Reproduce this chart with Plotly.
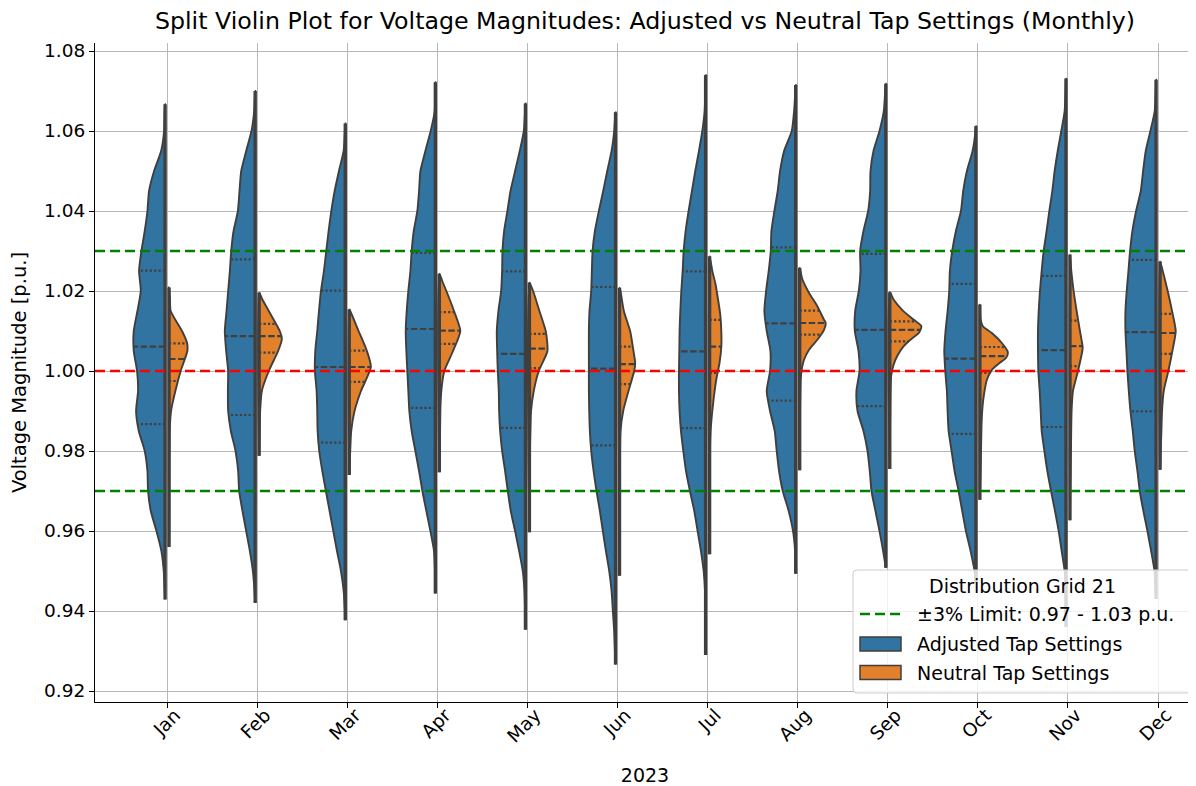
import numpy as np
import plotly.graph_objects as go

months = ["Jan", "Feb", "Mar", "Apr", "May", "Jun", "Jul", "Aug", "Sep", "Oct", "Nov", "Dec"]

# ---- Adjusted tap settings: density profile (voltage level -> half width in category units)
adj_levels = [
    [1.0667, 1.065, 1.060, 1.055, 1.050, 1.045, 1.040, 1.035, 1.030, 1.025, 1.020, 1.015, 1.010, 1.005, 1.000, 0.995, 0.990, 0.985, 0.980, 0.975, 0.970, 0.965, 0.960, 0.955, 0.950, 0.945, 0.9429],
    [1.070, 1.065, 1.060, 1.055, 1.050, 1.045, 1.040, 1.035, 1.030, 1.025, 1.020, 1.015, 1.010, 1.005, 1.000, 0.995, 0.990, 0.985, 0.980, 0.975, 0.970, 0.965, 0.960, 0.955, 0.950, 0.945, 0.942],
    [1.0619, 1.060, 1.055, 1.050, 1.045, 1.040, 1.035, 1.030, 1.025, 1.020, 1.015, 1.010, 1.005, 1.000, 0.995, 0.990, 0.985, 0.980, 0.975, 0.970, 0.965, 0.960, 0.955, 0.950, 0.945, 0.940, 0.9377],
    [1.0722, 1.070, 1.065, 1.060, 1.055, 1.050, 1.045, 1.040, 1.035, 1.030, 1.025, 1.020, 1.015, 1.010, 1.005, 1.000, 0.995, 0.990, 0.985, 0.980, 0.975, 0.970, 0.965, 0.960, 0.955, 0.950, 0.9444],
    [1.0669, 1.065, 1.060, 1.055, 1.050, 1.045, 1.040, 1.035, 1.030, 1.025, 1.020, 1.015, 1.010, 1.005, 1.000, 0.995, 0.990, 0.985, 0.980, 0.975, 0.970, 0.965, 0.960, 0.955, 0.950, 0.945, 0.940, 0.9353],
    [1.0647, 1.060, 1.055, 1.050, 1.045, 1.040, 1.035, 1.030, 1.025, 1.020, 1.015, 1.010, 1.005, 1.000, 0.995, 0.990, 0.985, 0.980, 0.975, 0.970, 0.965, 0.960, 0.955, 0.950, 0.945, 0.940, 0.935, 0.930, 0.9266],
    [1.074, 1.070, 1.065, 1.060, 1.055, 1.050, 1.045, 1.040, 1.035, 1.030, 1.025, 1.020, 1.015, 1.010, 1.005, 1.000, 0.995, 0.990, 0.985, 0.980, 0.975, 0.970, 0.965, 0.960, 0.955, 0.950, 0.945, 0.940, 0.929],
    [1.0715, 1.070, 1.065, 1.060, 1.055, 1.050, 1.045, 1.040, 1.035, 1.030, 1.025, 1.020, 1.015, 1.010, 1.005, 1.000, 0.995, 0.990, 0.985, 0.980, 0.975, 0.970, 0.965, 0.960, 0.955, 0.9493],
    [1.0718, 1.070, 1.065, 1.060, 1.055, 1.050, 1.045, 1.040, 1.035, 1.030, 1.025, 1.020, 1.015, 1.010, 1.005, 1.000, 0.995, 0.990, 0.985, 0.980, 0.975, 0.970, 0.965, 0.960, 0.955, 0.9508],
    [1.0612, 1.060, 1.055, 1.050, 1.045, 1.040, 1.035, 1.030, 1.025, 1.020, 1.015, 1.010, 1.005, 1.000, 0.995, 0.990, 0.985, 0.980, 0.975, 0.970, 0.965, 0.960, 0.955, 0.950, 0.947],
    [1.0731, 1.070, 1.065, 1.060, 1.055, 1.050, 1.045, 1.040, 1.035, 1.030, 1.025, 1.020, 1.015, 1.010, 1.005, 1.000, 0.995, 0.990, 0.985, 0.980, 0.975, 0.970, 0.965, 0.960, 0.955, 0.950, 0.945, 0.940, 0.936],
    [1.0728, 1.070, 1.065, 1.060, 1.055, 1.050, 1.045, 1.040, 1.035, 1.030, 1.025, 1.020, 1.015, 1.010, 1.005, 1.000, 0.995, 0.990, 0.985, 0.980, 0.975, 0.970, 0.965, 0.960, 0.955, 0.950, 0.945, 0.943],
]
adj_widths = [
    [0, 0.004, 0.011, 0.044, 0.122, 0.178, 0.196, 0.226, 0.263, 0.289, 0.270, 0.307, 0.348, 0.348, 0.311, 0.300, 0.322, 0.292, 0.226, 0.196, 0.189, 0.159, 0.096, 0.041, 0.015, 0.004, 0],
    [0, 0.011, 0.041, 0.100, 0.155, 0.174, 0.192, 0.240, 0.266, 0.281, 0.300, 0.318, 0.337, 0.322, 0.300, 0.303, 0.300, 0.270, 0.218, 0.189, 0.178, 0.141, 0.100, 0.059, 0.026, 0.007, 0],
    [0, 0.004, 0.018, 0.070, 0.118, 0.155, 0.185, 0.211, 0.237, 0.270, 0.292, 0.311, 0.333, 0.337, 0.318, 0.311, 0.307, 0.289, 0.255, 0.215, 0.174, 0.133, 0.092, 0.048, 0.018, 0.004, 0],
    [0, 0.002, 0.007, 0.052, 0.111, 0.166, 0.181, 0.200, 0.240, 0.263, 0.277, 0.300, 0.318, 0.329, 0.322, 0.311, 0.300, 0.289, 0.263, 0.222, 0.181, 0.144, 0.100, 0.055, 0.015, 0.004, 0],
    [0, 0.004, 0.018, 0.063, 0.115, 0.166, 0.200, 0.237, 0.255, 0.259, 0.270, 0.300, 0.318, 0.314, 0.307, 0.296, 0.292, 0.281, 0.259, 0.226, 0.196, 0.163, 0.115, 0.070, 0.030, 0.011, 0.004, 0],
    [0, 0.015, 0.044, 0.092, 0.137, 0.185, 0.229, 0.255, 0.263, 0.270, 0.289, 0.296, 0.296, 0.296, 0.296, 0.292, 0.285, 0.270, 0.244, 0.211, 0.174, 0.141, 0.107, 0.070, 0.044, 0.030, 0.015, 0.007, 0],
    [0, 0.004, 0.011, 0.037, 0.074, 0.115, 0.152, 0.189, 0.222, 0.244, 0.255, 0.270, 0.281, 0.289, 0.292, 0.296, 0.296, 0.289, 0.274, 0.248, 0.218, 0.174, 0.126, 0.089, 0.052, 0.022, 0.007, 0.004, 0],
    [0, 0.004, 0.018, 0.044, 0.129, 0.174, 0.200, 0.237, 0.270, 0.277, 0.300, 0.329, 0.348, 0.322, 0.281, 0.285, 0.322, 0.285, 0.233, 0.211, 0.185, 0.144, 0.078, 0.030, 0.007, 0],
    [0, 0.007, 0.022, 0.070, 0.137, 0.170, 0.174, 0.196, 0.248, 0.285, 0.281, 0.300, 0.340, 0.344, 0.303, 0.292, 0.326, 0.314, 0.248, 0.203, 0.178, 0.159, 0.115, 0.070, 0.030, 0],
    [0, 0.004, 0.037, 0.100, 0.141, 0.166, 0.222, 0.263, 0.289, 0.296, 0.314, 0.337, 0.351, 0.340, 0.322, 0.314, 0.303, 0.270, 0.237, 0.192, 0.152, 0.111, 0.059, 0.015, 0],
    [0, 0.004, 0.015, 0.052, 0.092, 0.126, 0.152, 0.185, 0.215, 0.248, 0.270, 0.289, 0.303, 0.311, 0.311, 0.307, 0.292, 0.281, 0.270, 0.240, 0.207, 0.166, 0.122, 0.081, 0.048, 0.015, 0.006, 0.003, 0],
    [0, 0.004, 0.015, 0.063, 0.115, 0.144, 0.170, 0.222, 0.263, 0.289, 0.307, 0.326, 0.340, 0.340, 0.329, 0.318, 0.303, 0.285, 0.259, 0.237, 0.207, 0.181, 0.141, 0.096, 0.055, 0.018, 0.006, 0],
]
adj_q1 = [0.9867, 0.9890, 0.9821, 0.9908, 0.9858, 0.9814, 0.9857, 0.9926, 0.9912, 0.9843, 0.9860, 0.9899]
adj_med = [1.0061, 1.0087, 1.0010, 1.0105, 1.0043, 1.0006, 1.0049, 1.0119, 1.0103, 1.0031, 1.0052, 1.0097]
adj_q3 = [1.0251, 1.0279, 1.0201, 1.0295, 1.0249, 1.0210, 1.0249, 1.0309, 1.0293, 1.0218, 1.0238, 1.0278]

# ---- Neutral tap settings
neu_levels = [
    [1.0209, 1.020, 1.018, 1.015, 1.010, 1.007, 1.005, 1.000, 0.995, 0.990, 0.985, 0.980, 0.970, 0.956],
    [1.0196, 1.018, 1.015, 1.010, 1.008, 1.005, 1.000, 0.995, 0.990, 0.985, 0.9788],
    [1.0154, 1.015, 1.010, 1.005, 1.001, 0.995, 0.990, 0.985, 0.980, 0.974],
    [1.0243, 1.022, 1.020, 1.015, 1.010, 1.005, 1.000, 0.995, 0.990, 0.980, 0.9747],
    [1.0221, 1.020, 1.015, 1.010, 1.005, 1.000, 0.995, 0.990, 0.985, 0.980, 0.9597],
    [1.0208, 1.020, 1.015, 1.010, 1.005, 1.002, 1.000, 0.995, 0.990, 0.985, 0.980, 0.9488],
    [1.0287, 1.025, 1.022, 1.018, 1.014, 1.010, 1.006, 1.002, 0.998, 0.994, 0.990, 0.985, 0.980, 0.9542],
    [1.0258, 1.0229, 1.0195, 1.0162, 1.0128, 1.012, 1.0103, 1.0078, 1.0053, 1.0028, 1.0003, 0.9978, 0.990, 0.9752],
    [1.0197, 1.0178, 1.0153, 1.0128, 1.0112, 1.0095, 1.0078, 1.0062, 1.0037, 1.0012, 0.9987, 0.9945, 0.9755],
    [1.0166, 1.013, 1.0112, 1.0095, 1.007, 1.0047, 1.0033, 1.002, 1.0003, 0.9978, 0.9945, 0.9912, 0.9862, 0.9778, 0.9678],
    [1.0291, 1.025, 1.020, 1.015, 1.010, 1.006, 1.005, 1.000, 0.995, 0.990, 0.980, 0.970, 0.9627],
    [1.0274, 1.025, 1.020, 1.015, 1.010, 1.005, 1.000, 0.995, 0.990, 0.985, 0.980, 0.9753],
]
neu_widths = [
    [0, 0.002, 0.010, 0.018, 0.144, 0.200, 0.203, 0.129, 0.070, 0.022, 0.007, 0.004, 0.002, 0],
    [0, 0.033, 0.107, 0.229, 0.252, 0.211, 0.107, 0.030, 0.011, 0.004, 0],
    [0, 0.011, 0.104, 0.196, 0.240, 0.130, 0.059, 0.022, 0.011, 0],
    [0, 0.041, 0.078, 0.163, 0.233, 0.152, 0.055, 0.022, 0.011, 0.006, 0],
    [0, 0.041, 0.111, 0.181, 0.200, 0.104, 0.048, 0.018, 0.011, 0.006, 0],
    [0, 0.011, 0.048, 0.118, 0.155, 0.174, 0.163, 0.100, 0.041, 0.011, 0.006, 0],
    [0, 0.030, 0.063, 0.093, 0.119, 0.130, 0.130, 0.110, 0.075, 0.050, 0.030, 0.011, 0.004, 0],
    [0, 0.030, 0.104, 0.196, 0.270, 0.289, 0.270, 0.196, 0.104, 0.048, 0.022, 0.011, 0.004, 0],
    [0, 0.044, 0.137, 0.266, 0.351, 0.322, 0.229, 0.155, 0.081, 0.037, 0.015, 0.007, 0],
    [0, 0.007, 0.033, 0.133, 0.244, 0.311, 0.292, 0.218, 0.133, 0.078, 0.048, 0.030, 0.018, 0.011, 0],
    [0, 0.015, 0.041, 0.074, 0.111, 0.141, 0.137, 0.089, 0.033, 0.018, 0.011, 0.004, 0],
    [0, 0.030, 0.085, 0.133, 0.174, 0.137, 0.092, 0.041, 0.022, 0.015, 0.007, 0],
]
neu_q1 = [0.9975, 1.0046, 0.9973, 1.0068, 1.0007, 0.9967, 0.9995, 1.0091, 1.0074, 0.9995, 1.0012, 1.0043]
neu_med = [1.0030, 1.0087, 1.0010, 1.0101, 1.0056, 1.0017, 1.0061, 1.0120, 1.0103, 1.0037, 1.0062, 1.0095]
neu_q3 = [1.0069, 1.0118, 1.0051, 1.0147, 1.0093, 1.0061, 1.0128, 1.0151, 1.0124, 1.0060, 1.0126, 1.0143]

nominal = 1.00
limit_low, limit_high = 0.97, 1.03
y_ticks = [0.92, 0.94, 0.96, 0.98, 1.00, 1.02, 1.04, 1.06, 1.08]

legend_title = "Distribution Grid 21"
limit_label = "±3% Limit: 0.97 - 1.03 p.u."
adj_label = "Adjusted Tap Settings"
neu_label = "Neutral Tap Settings"

BLUE = "#3274a1"
ORANGE = "#e1812c"
EDGE = "#3f3f3f"
GAP = 0.022
FONT = "DejaVu Sans"

# page offset (browser body margin) and plot-area geometry in screen pixels
OFF = 8
W, H = 1196 - OFF, 786 - OFF
L, R, T, B = 95, 1195, 43, 702


def px(x):
    return (x - L) / (R - L)


def py(y):
    return (B - y) / (B - T)


fig = go.Figure()

series = [
    (adj_label, -1, BLUE, adj_levels, adj_widths, adj_q1, adj_med, adj_q3),
    (neu_label, 1, ORANGE, neu_levels, neu_widths, neu_q1, neu_med, neu_q3),
]

for name, sign, color, levels, widths, q1s, meds, q3s in series:
    edge_x, edge_y = [], []
    dot_x, dot_y, dash_x, dash_y = [], [], [], []
    for i in range(len(months)):
        v = np.array(levels[i], dtype=float)
        w = np.array(widths[i], dtype=float)
        base = i + sign * GAP
        xs = list(base + sign * w) + [base, base]
        ys = list(v) + [v[-1], v[0]]
        fig.add_trace(go.Scatter(
            x=xs, y=ys, mode="lines", fill="toself", fillcolor=color,
            line=dict(color=EDGE, width=1.9, shape="spline", smoothing=0.6),
            name=name, showlegend=False, hoverinfo="skip"))
        edge_x += [base, base, None]
        edge_y += [v[0], v[-1], None]
        order = np.argsort(v)
        for q, kind in ((q1s[i], "dot"), (meds[i], "dash"), (q3s[i], "dot")):
            wq = float(np.interp(q, v[order], w[order]))
            if kind == "dot":
                dot_x += [base, base + sign * wq, None]
                dot_y += [q, q, None]
            else:
                dash_x += [base, base + sign * wq, None]
                dash_y += [q, q, None]
    fig.add_trace(go.Scatter(x=edge_x, y=edge_y, mode="lines",
                             line=dict(color=EDGE, width=3.4), showlegend=False, hoverinfo="skip"))
    fig.add_trace(go.Scatter(x=dot_x, y=dot_y, mode="lines",
                             line=dict(color=EDGE, width=2.2, dash="2.2px,2.2px"), showlegend=False, hoverinfo="skip"))
    fig.add_trace(go.Scatter(x=dash_x, y=dash_y, mode="lines",
                             line=dict(color=EDGE, width=2.2, dash="6.5px,2.5px"), showlegend=False, hoverinfo="skip"))

# reference lines
for val, col in ((limit_low, "green"), (limit_high, "green"), (nominal, "red")):
    fig.add_hline(y=val, line=dict(color=col, width=2.5, dash="10px,5px"), layer="above")

# ---- hand-drawn legend (matplotlib style) ----
bx0, bx1, by0, by1, r = 853, 1192, 570, 693, 4
path = (f"M {px(bx0 + r)},{py(by0)} L {px(bx1 - r)},{py(by0)} Q {px(bx1)},{py(by0)} {px(bx1)},{py(by0 + r)} "
        f"L {px(bx1)},{py(by1 - r)} Q {px(bx1)},{py(by1)} {px(bx1 - r)},{py(by1)} "
        f"L {px(bx0 + r)},{py(by1)} Q {px(bx0)},{py(by1)} {px(bx0)},{py(by1 - r)} "
        f"L {px(bx0)},{py(by0 + r)} Q {px(bx0)},{py(by0)} {px(bx0 + r)},{py(by0)} Z")
fig.add_shape(type="path", path=path, xref="paper", yref="paper",
              fillcolor="rgba(255,255,255,0.8)", line=dict(color="#cccccc", width=1), layer="above")
fig.add_shape(type="line", xref="paper", yref="paper", x0=px(860), x1=px(900), y0=py(614), y1=py(614),
              line=dict(color="green", width=2.5, dash="10px,5px"), layer="above")
fig.add_shape(type="rect", xref="paper", yref="paper", x0=px(860), x1=px(901), y0=py(637), y1=py(651),
              fillcolor=BLUE, line=dict(color=EDGE, width=1.5), layer="above")
fig.add_shape(type="rect", xref="paper", yref="paper", x0=px(860), x1=px(901), y0=py(665.5), y1=py(679.5),
              fillcolor=ORANGE, line=dict(color=EDGE, width=1.5), layer="above")

fig.add_annotation(text=legend_title, xref="paper", yref="paper", x=px(1022.5), y=py(586),
                   xanchor="center", yanchor="middle", showarrow=False, font=dict(size=19, family=FONT))
for label, yc in ((limit_label, 614), (adj_label, 643.5), (neu_label, 672.5)):
    fig.add_annotation(text=label, xref="paper", yref="paper", x=px(915), y=py(yc),
                       xanchor="left", yanchor="middle", showarrow=False, font=dict(size=19, family=FONT))

fig.update_layout(
    width=W, height=H,
    margin=dict(l=L - OFF, r=W - (R - OFF), t=T - OFF, b=H - (B - OFF), autoexpand=False),
    paper_bgcolor="white", plot_bgcolor="white",
    font=dict(family=FONT, size=18, color="black"),
    title=dict(text="Split Violin Plot for Voltage Magnitudes: Adjusted vs Neutral Tap Settings (Monthly)",
               x=0.5, xref="paper", xanchor="center", y=1 - (21 - OFF) / H, yanchor="middle",
               font=dict(family=FONT, size=23.7, color="black")),
    showlegend=False,
)

fig.update_xaxes(
    range=[-0.8, 11.41], tickmode="array", tickvals=list(range(len(months))), ticktext=months,
    tickangle=-45, ticklabelshift=8, ticklabelstandoff=-11, ticks="outside", ticklen=5, tickwidth=1.2,
    tickcolor="black", showline=True, linecolor="black", linewidth=1.2, mirror=False, automargin=False,
    showgrid=True, gridcolor="#b8b8b8", gridwidth=1.2, zeroline=False,
    tickfont=dict(size=18.5),
    title=dict(text="2023", font=dict(size=19), standoff=23))

fig.update_yaxes(
    range=[0.91725, 1.082], tickmode="array", tickvals=y_ticks, ticktext=[f"{t:.2f}" for t in y_ticks],
    ticks="outside", ticklen=5, tickwidth=1.2, tickcolor="black", automargin=False,
    showline=True, linecolor="black", linewidth=1.2, mirror=False,
    showgrid=True, gridcolor="#b8b8b8", gridwidth=1.2, zeroline=False,
    tickfont=dict(size=18.5),
    title=dict(text="Voltage Magnitude [p.u.]", font=dict(size=19.5), standoff=15))

fig.write_html("out.html")
